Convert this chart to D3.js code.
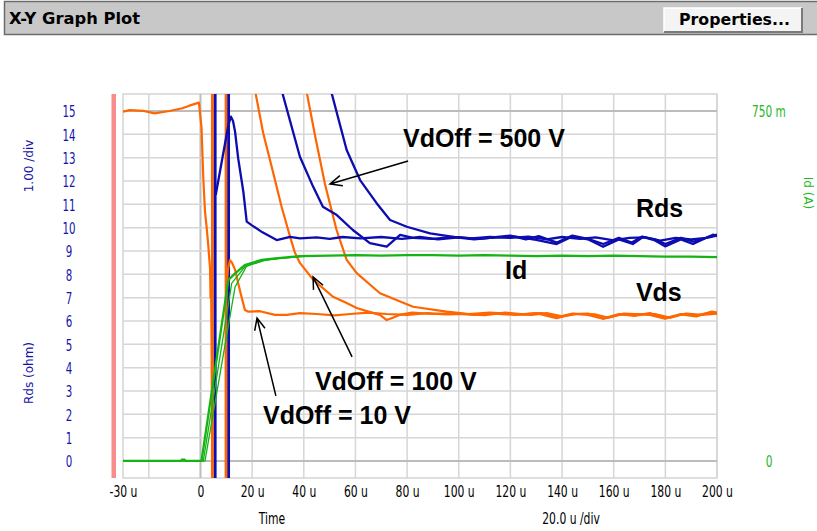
<!DOCTYPE html>
<html>
<head>
<meta charset="utf-8">
<script src="https://cdn.jsdelivr.net/npm/d3@7"></script>
<style>
  body { margin: 0; background: #fff; }
  svg { display: block; }
</style>
</head>
<body>
<svg id="vis-svg"></svg>
<script>
// ---- data (time in u, Rds/Vds in div units, Id in mA) ----
const timeTicks = [-30, 0, 20, 40, 60, 80, 100, 120, 140, 160, 180, 200];
const timeGrid = [-20, 0, 20, 40, 60, 80, 100, 120, 140, 160, 180, 200];
const rdsTicks = [0, 1, 2, 3, 4, 5, 6, 7, 8, 9, 10, 11, 12, 13, 14, 15];
const idTicks = [0, 750];
const idTickLabels = ["0", "750 m"];

// cursor-like vertical jumps of the traces at switch-on
const cursorTimes = [4.6, 5.7, 9.9, 10.9];
const cursorTraces = ["vds", "rds", "vds", "rds"];

const vds10 = [[-30,14.97],[-27.4,15.04],[-22.3,15.01],[-17.8,14.9],[-12,15.0],[-7,15.12],[-4.3,15.23],[-0.6,15.36],
  [0.4,14.3],[1.1,12.1],[1.75,10.7],[2.4,10.0],[3.0,9.26],[3.7,8.27],[3.9,7.0],[4.1,7.6],[4.3,5.2],[4.6,-1], null,
  [9.9,-1],[9.9,6.8],[10.6,8.2],[11.4,8.61],[12.2,8.5],[13.4,8.19],[15.3,7.3],[17.2,6.47],[18.5,6.4],[23,6.42],
  [28.9,6.26],[33.4,6.26],[38.5,6.34],[45,6.3],[52,6.24],[58,6.3],[65,6.36],[72,6.3],[80,6.26],[88,6.34],[95,6.28],
  [102,6.3],[110,6.25],[118,6.36],[125,6.28],[132,6.34],[138,6.16],[144,6.32],[150,6.26],[156,6.1],[162,6.3],
  [168,6.22],[174,6.34],[180,6.12],[186,6.28],[192,6.2],[198,6.4],[200,6.36]];
const vds100 = [[20.5,16.3],[21.1,15.9],[24.3,14.05],[28.2,12.33],[31.4,10.9],[34.7,9.61],[36.5,8.95],[38.5,8.49],
  [43.7,7.76],[51.3,7.04],[56,6.8],[60.5,6.56],[65,6.4],[69.5,6.26],[72.1,6.04],[74.5,6.14],[77,6.26],[82,6.36],
  [90,6.3],[98,6.34],[106,6.26],[114,6.32],[122,6.26],[130,6.34],[137.9,6.12],[144,6.3],[150,6.32],[155.9,6.1],
  [162,6.26],[168,6.3],[174,6.26],[179.9,6.1],[186,6.3],[192,6.24],[198.5,6.38],[200,6.34]];
const vds500 = [[40.6,16.3],[41.2,15.76],[44.7,13.76],[48.2,11.87],[52.7,9.9],[56.6,8.62],[60.5,8.05],[69.5,7.19],
  [82.3,6.61],[95.3,6.4],[104,6.3],[112,6.36],[120,6.3],[128,6.26],[134,6.34],[140,6.2],[146,6.3],[153,6.28],
  [158,6.14],[164,6.32],[170,6.28],[176,6.3],[182,6.14],[188,6.32],[194,6.26],[200,6.32]];

const rds10 = [[5.9,11.4],[10.8,14.4],[11.8,14.76],[12.6,14.57],[13.4,14.11],[14.6,12.97],[16.6,11.54],[17.9,10.26],
  [19.8,10.11],[24,9.8],[29.5,9.47],[34.7,9.61],[38.5,9.54],[45,9.58],[50,9.52],[55,9.6],[62,9.54],[70,9.6],[78,9.52],
  [85,9.6],[92,9.5],[100,9.58],[108,9.52],[115,9.6],[120,9.66],[126,9.5],[131,9.64],[138,9.36],[144,9.66],[150,9.52],
  [156,9.3],[162,9.56],[167,9.36],[171,9.62],[176,9.5],[180,9.3],[186,9.56],[191,9.4],[196,9.58],[200,9.7]];
const rds100 = [[30.8,16.3],[31.4,15.9],[38.5,13.04],[43.6,11.76],[47.4,10.9],[52.8,10.54],[59,9.9],[65.6,9.34],
  [72.1,9.19],[77.3,9.69],[82.3,9.56],[90,9.52],[98,9.6],[106,9.5],[114,9.58],[122,9.62],[130,9.48],[137.9,9.3],
  [144,9.62],[150,9.5],[155.9,9.18],[162,9.5],[167.4,9.3],[171.3,9.6],[176,9.45],[179.9,9.2],[186,9.5],[190.7,9.3],
  [198.4,9.7],[200,9.64]];
const rds500 = [[50.3,16.3],[50.8,15.76],[56.6,13.33],[61.8,12.04],[68.2,11.05],[73.4,10.33],[79.9,10.04],[88.9,9.76],
  [97.9,9.61],[105,9.54],[112,9.6],[120,9.56],[127,9.62],[134,9.5],[140,9.6],[147,9.52],[153,9.58],[160,9.46],
  [166,9.56],[172,9.58],[178,9.44],[184,9.56],[190,9.5],[196,9.56],[200,9.66]];

const id10 = [[-30,0],[-7.6,0],[-7.2,3],[-6.2,3],[-5.8,0],[0.4,0],[10.8,388],[13.4,402],[17.2,420],[23.7,431],
  [28.9,434],[38.5,439],[50,440],[60,441],[70,440],[80,441],[90,441],[100,440],[110,441],[120,440],[130,439],
  [140,440],[150,439],[160,440],[170,439],[180,438],[190,438],[200,437]];
const id100 = [[-30,0],[1.1,0],[12.1,381],[17.2,416],[24,430],[30,434],[40,439]];
const id500 = [[-30,0],[1.75,0],[13.4,373],[17.9,418],[25,430],[32,435],[42,439]];

// annotations, placed in data units
const annotations = [
  {text: "VdOff = 500 V", t: 78.4, v: 13.44},
  {text: "Rds", t: 168.6, v: 10.46},
  {text: "Id", t: 117.9, v: 7.8},
  {text: "Vds", t: 168.6, v: 6.86},
  {text: "VdOff = 100 V", t: 44.3, v: 3.04},
  {text: "VdOff = 10 V", t: 24.2, v: 1.59}
];
const arrows = [
  {from: [80.4, 12.86], to: [50.15, 11.87]},
  {from: [58.7, 4.46], to: [43.6, 7.89]},
  {from: [29.2, 2.79], to: [21.9, 6.13]}
];

// ---- layout / styles ----
const W = 817, H = 531;
const margin = {top: 94, left: 123},
      width = 594,
      height = 384;
const colors = {vds: "#ff6600", rds: "#0c0cb0", id: "#14b414"};
const axisFont = "'DejaVu Sans', Verdana, sans-serif";
const mA_per_div = 50;

const svg = d3.select("#vis-svg")
    .attr("width", W)
    .attr("height", H)
    .attr("font-family", axisFont);

// title bar
svg.append("rect")
    .attr("x", 4.5).attr("y", 1.5)
    .attr("width", W).attr("height", 33)
    .attr("fill", "#c8c8c8")
    .attr("stroke", "#6c6c6c")
    .attr("stroke-width", 1.5);
svg.append("text")
    .attr("x", 9).attr("y", 24)
    .attr("font-size", 15)
    .attr("font-weight", "bold")
    .attr("fill", "#000")
    .attr("textLength", 131)
    .attr("lengthAdjust", "spacingAndGlyphs")
    .text("X-Y Graph Plot");

// properties button
svg.append("rect")
    .attr("x", 664).attr("y", 8)
    .attr("width", 138).attr("height", 24)
    .attr("fill", "#f4f4f4");
svg.append("path")
    .attr("d", "M664,32 L664,8 L802,8")
    .attr("fill", "none").attr("stroke", "#ffffff").attr("stroke-width", 1.5);
svg.append("path")
    .attr("d", "M664,32 L802,32 L802,8")
    .attr("fill", "none").attr("stroke", "#7a7a7a").attr("stroke-width", 2);
svg.append("text")
    .attr("x", 679).attr("y", 25)
    .attr("font-size", 15)
    .attr("font-weight", "bold")
    .attr("textLength", 111)
    .attr("lengthAdjust", "spacingAndGlyphs")
    .text("Properties...");

// scales
const x = d3.scaleLinear().domain([-30, 200]).range([0, width]);
const y = d3.scaleLinear().domain([-0.73, 15.73]).range([height, 0]);
const yId = d3.scaleLinear().domain([-0.73 * mA_per_div, 15.73 * mA_per_div]).range([height, 0]);

// pink marker bar at the left
svg.append("rect")
    .attr("x", margin.left - 11.5).attr("y", margin.top)
    .attr("width", 4.5).attr("height", height)
    .attr("fill", "#f68c8c");

const plot = svg.append("g")
    .attr("transform", "translate(" + margin.left + "," + margin.top + ")");

plot.append("rect")
    .attr("width", width).attr("height", height)
    .attr("fill", "#fff")
    .attr("stroke", "#d4d4d4")
    .attr("stroke-width", 1.5);

// grid
plot.selectAll(".vgrid")
    .data(timeGrid)
  .enter().append("line")
    .attr("x1", d => x(d)).attr("x2", d => x(d))
    .attr("y1", 0).attr("y2", height)
    .attr("stroke", d => d === 0 ? "#bcbcbc" : "#d6d6d6")
    .attr("stroke-width", d => d === 0 ? 2 : 1.5);

plot.selectAll(".hgrid")
    .data(rdsTicks)
  .enter().append("line")
    .attr("x1", 0).attr("x2", width)
    .attr("y1", d => y(d)).attr("y2", d => y(d))
    .attr("stroke", d => (d === 0 || d === 15) ? "#bcbcbc" : "#d6d6d6")
    .attr("stroke-width", d => (d === 0 || d === 15) ? 2 : 1.5);

// clip for traces
svg.append("defs").append("clipPath")
    .attr("id", "plot-clip")
  .append("rect")
    .attr("width", width).attr("height", height);

const traces = plot.append("g").attr("clip-path", "url(#plot-clip)");

// vertical jumps at switch-on
traces.selectAll(".cursor")
    .data(cursorTimes)
  .enter().append("line")
    .attr("x1", d => x(d)).attr("x2", d => x(d))
    .attr("y1", y(y.domain()[1])).attr("y2", y(y.domain()[0]))
    .attr("stroke", (d, i) => colors[cursorTraces[i]])
    .attr("stroke-width", 2.8);

const line = d3.line()
    .defined(d => d !== null)
    .x(d => x(d[0]))
    .y(d => y(d[1]));

const lineId = d3.line()
    .x(d => x(d[0]))
    .y(d => yId(d[1]));

[vds10, vds100, vds500].forEach(s => {
    traces.append("path")
        .datum(s)
        .attr("d", line)
        .attr("fill", "none")
        .attr("stroke", colors.vds)
        .attr("stroke-width", 2.2)
        .attr("stroke-linejoin", "round");
});

[rds10, rds100, rds500].forEach(s => {
    traces.append("path")
        .datum(s)
        .attr("d", line)
        .attr("fill", "none")
        .attr("stroke", colors.rds)
        .attr("stroke-width", 2.3)
        .attr("stroke-linejoin", "round");
});

[id500, id100, id10].forEach((s, i) => {
    traces.append("path")
        .datum(s)
        .attr("d", lineId)
        .attr("fill", "none")
        .attr("stroke", colors.id)
        .attr("stroke-width", i === 2 ? 2.3 : 1.3);
});

// x axis
const xAxis = svg.append("g")
    .attr("transform", "translate(" + margin.left + "," + 492 + ")")
    .call(d3.axisBottom(x).tickValues(timeTicks).tickSize(0).tickPadding(0)
        .tickFormat(d => d === 0 ? "0" : d + " u"));
xAxis.select(".domain").remove();
xAxis.selectAll("text")
    .attr("y", 0)
    .attr("dy", "0.36em")
    .attr("font-size", 15)
    .attr("font-family", axisFont)
    .attr("fill", "#000")
    .attr("transform", "scale(0.72,1)");

// left axis (Rds)
const yAxis = svg.append("g")
    .attr("transform", "translate(69," + margin.top + ")")
    .call(d3.axisLeft(y).tickValues(rdsTicks).tickSize(0).tickPadding(0));
yAxis.select(".domain").remove();
yAxis.selectAll("text")
    .attr("x", 0)
    .attr("dy", "0.36em")
    .attr("text-anchor", "middle")
    .attr("font-size", 16)
    .attr("font-family", axisFont)
    .attr("fill", "#1414a8")
    .attr("transform", "scale(0.64,1)");

// right axis (Id)
const idAxis = svg.append("g")
    .attr("transform", "translate(769," + margin.top + ")")
    .call(d3.axisRight(yId).tickValues(idTicks).tickSize(0).tickPadding(0)
        .tickFormat((d, i) => idTickLabels[i]));
idAxis.select(".domain").remove();
idAxis.selectAll("text")
    .attr("x", 0)
    .attr("dy", "0.36em")
    .attr("text-anchor", "middle")
    .attr("font-size", 16)
    .attr("font-family", axisFont)
    .attr("fill", "#22b822")
    .attr("transform", "scale(0.66,1)");

// axis titles
function squeezed(tx, ty, str, size, color, sx) {
    svg.append("text")
        .attr("transform", "translate(" + tx + "," + ty + ") scale(" + sx + ",1)")
        .attr("text-anchor", "middle")
        .attr("dy", "0.36em")
        .attr("font-size", size)
        .attr("fill", color)
        .text(str);
}
squeezed(272, 519, "Time", 15, "#000", 0.72);
squeezed(571, 519, "20.0 u /div", 15, "#000", 0.72);

function rotated(tx, ty, angle, str, color) {
    svg.append("text")
        .attr("transform", "translate(" + tx + "," + ty + ") rotate(" + angle + ")")
        .attr("text-anchor", "middle")
        .attr("dy", "0.36em")
        .attr("font-size", 12)
        .attr("fill", color)
        .text(str);
}
rotated(29, 166, -90, "1.00 /div", "#1414a8");
rotated(29, 373, -90, "Rds (ohm)", "#1414a8");
rotated(808, 193, 90, "Id (A)", "#22b822");

// annotations
plot.selectAll(".note")
    .data(annotations)
  .enter().append("text")
    .attr("x", d => x(d.t))
    .attr("y", d => y(d.v))
    .attr("font-family", "'Liberation Sans', Arial, sans-serif")
    .attr("font-weight", "bold")
    .attr("font-size", 25)
    .attr("fill", "#000")
    .text(d => d.text);

arrows.forEach(a => {
    const x1 = x(a.from[0]), y1 = y(a.from[1]),
          x2 = x(a.to[0]), y2 = y(a.to[1]);
    const ang = Math.atan2(y2 - y1, x2 - x1),
          len = 13, spread = 0.42;
    const p1 = [x2 - len * Math.cos(ang - spread), y2 - len * Math.sin(ang - spread)],
          p2 = [x2 - len * Math.cos(ang + spread), y2 - len * Math.sin(ang + spread)];
    plot.append("path")
        .attr("d", "M" + x1 + "," + y1 + "L" + x2 + "," + y2 +
                   "M" + p1 + "L" + x2 + "," + y2 + "L" + p2)
        .attr("fill", "none")
        .attr("stroke", "#000")
        .attr("stroke-width", 1.5);
});
</script>
</body>
</html>
